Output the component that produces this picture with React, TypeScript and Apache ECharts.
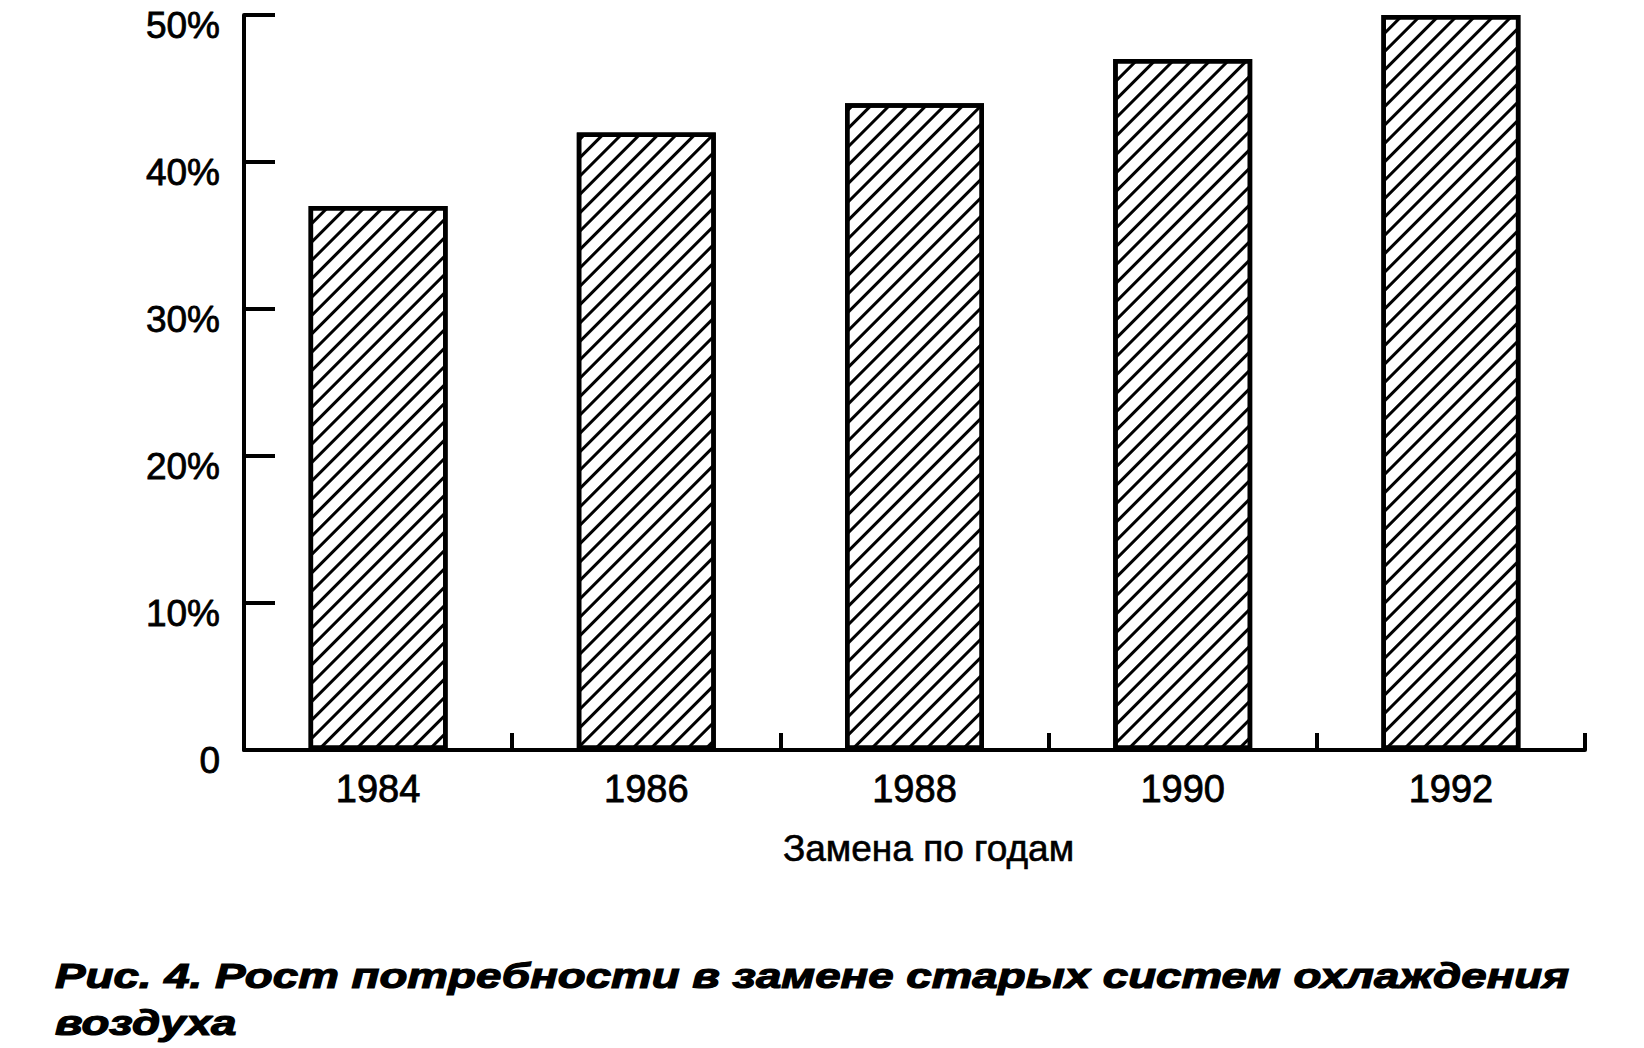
import React, { useEffect, useRef } from "react";
import * as echarts from "echarts";

const years = ["1984", "1986", "1988", "1990", "1992"];
const values = [37, 42, 44, 47, 50];
const yTicks = [0, 10, 20, 30, 40, 50];
const xAxisName = "Замена по годам";
const captionLines = [
  "Рис. 4. Рост потребности в замене старых систем охлаждения",
  "воздуха",
];

const FONT = "'Liberation Sans', Arial, Helvetica, sans-serif";

export default function App() {
  const ref = useRef<HTMLDivElement>(null);
  useEffect(() => {
    if (!ref.current) return;
    const chart = echarts.init(ref.current, null, { renderer: "svg" });
    chart.setOption({
      animation: false,
      backgroundColor: "#ffffff",
      grid: { left: 244, right: 59, top: 15, bottom: 298, containLabel: false },
      xAxis: {
        type: "category",
        data: years,
        boundaryGap: true,
        axisLine: { lineStyle: { color: "#000", width: 4 } },
        axisTick: {
          show: true,
          inside: true,
          length: 17,
          interval: 0,
          alignWithLabel: false,
          lineStyle: { color: "#000", width: 4 },
        },
        axisLabel: {
          color: "#000",
          fontFamily: FONT,
          fontSize: 38,
          margin: 20,
          textBorderColor: "#000",
          textBorderWidth: 0.8,
        },
        name: xAxisName,
        nameLocation: "middle",
        nameGap: 80,
        nameTextStyle: {
          color: "#000",
          fontFamily: FONT,
          fontSize: 37,
          textBorderColor: "#000",
          textBorderWidth: 0.6,
          padding: [0, 0, 0, 28],
        },
      },
      yAxis: {
        type: "value",
        min: yTicks[0],
        max: yTicks[yTicks.length - 1],
        interval: 10,
        splitLine: { show: false },
        axisLine: { show: true, lineStyle: { color: "#000", width: 4 } },
        axisTick: {
          show: true,
          inside: true,
          length: 31,
          lineStyle: { color: "#000", width: 4 },
        },
        axisLabel: {
          color: "#000",
          fontFamily: FONT,
          fontSize: 37,
          margin: 24,
          verticalAlign: "top",
          lineHeight: 21,
          textBorderColor: "#000",
          textBorderWidth: 0.8,
          formatter: (v: number) => (v === 0 ? "0" : v + "%"),
        },
      },
      series: [
        {
          type: "bar",
          data: values,
          barWidth: 139,
          itemStyle: {
            color: "#ffffff",
            borderColor: "#000",
            borderWidth: 4.5,
            decal: {
              symbol: "rect",
              symbolSize: 1,
              dashArrayX: [1, 0],
              dashArrayY: [3, 10],
              rotation: -Math.PI / 4,
              color: "#000",
            },
          },
        },
      ],
      graphic: captionLines.map((line, i) => ({
        type: "text",
        x: 55,
        y: 958 + i * 47,
        scaleX: 1.27,
        style: {
          text: line,
          fill: "#000",
          stroke: "#000",
          lineWidth: 1.2,
          font: `italic bold 36px ${FONT}`,
        },
      })),
    });
    return () => chart.dispose();
  }, []);
  return (
    <div
      ref={ref}
      style={{ position: "fixed", left: 0, top: 0, width: 1644, height: 1048 }}
    />
  );
}
